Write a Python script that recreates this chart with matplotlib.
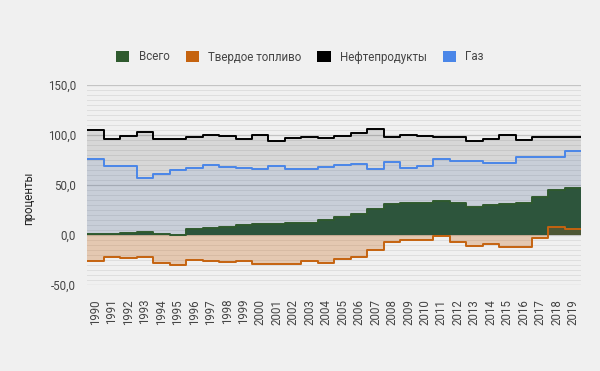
import numpy as np
import matplotlib
matplotlib.use('Agg')
import matplotlib.pyplot as plt
from matplotlib.patches import Patch
from matplotlib.ticker import MultipleLocator, FuncFormatter

plt.rcParams['font.family'] = ['Roboto', 'DejaVu Sans']

years = list(range(1990, 2020))
vsego = [0.7, 1, 1.7, 3, 0.7, 0.3, 5.7, 6.7, 8.3, 10, 11, 11, 11.7, 12.3, 15,
         18.3, 20.7, 25.7, 31, 32.3, 32.3, 34, 31.7, 28.3, 30, 30.7, 31.7, 38.3, 45, 47.3]
tverdoe = [-25.7, -21.7, -23.3, -22.3, -27.7, -30.3, -25, -26, -27, -26, -29, -29.3,
           -28.7, -26.3, -27.7, -24, -21.7, -15, -6.7, -5.3, -4.7, -1, -6.7, -10.7,
           -8.7, -11.7, -12, -2.7, 8.3, 6]
neft = [105, 95.7, 99.3, 102.7, 96.3, 96.3, 97.7, 100, 98.7, 96, 100, 93.7, 96.7,
        98.3, 96.7, 99, 101.7, 106, 98, 100.3, 99, 97.7, 97.7, 94.3, 96, 100.3,
        95.3, 98.3, 98.3, 97.7]
gaz = [76.3, 69, 69, 57.3, 61, 65, 67.3, 70, 68.3, 67.3, 66.3, 69.3, 66.3, 66.3,
       68.3, 70, 71, 66, 73, 67.3, 69.3, 75.7, 74.3, 74.3, 72.3, 72.3, 77.7, 78.3,
       78.3, 83.7]

names = ['Всего', 'Твердое топливо', 'Нефтепродукты', 'Газ']
colors = ['#2f5a2e', '#c5630f', '#000000', '#4a86e8']

bg = '#f0f0f0'
fig = plt.figure(figsize=(6, 3.71), dpi=100, facecolor=bg)
ax = fig.add_axes([87.3 / 600, 1 - 285 / 371, (581.4 - 87.3) / 600, 200 / 371])
ax.set_facecolor(bg)

x = np.arange(len(years) + 1)

def ext(v):
    return list(v) + [v[-1]]

# filled steps, same order as the series
ax.fill_between(x, 0, ext(vsego), step='post', color=colors[0], lw=0, zorder=2)
ax.fill_between(x, 0, ext(tverdoe), step='post', color=colors[1], alpha=0.28, lw=0, zorder=3)
ax.fill_between(x, 0, ext(neft), step='post', color=colors[2], alpha=0.1, lw=0, zorder=3)
ax.fill_between(x, 0, ext(gaz), step='post', color=colors[3], alpha=0.1, lw=0, zorder=3)

ax.step(x, ext(vsego), where='post', color=colors[0], lw=1.4, zorder=4)
ax.step(x, ext(tverdoe), where='post', color=colors[1], lw=1.4, zorder=4)
ax.step(x, ext(neft), where='post', color=colors[2], lw=1.4, zorder=4)
ax.step(x, ext(gaz), where='post', color=colors[3], lw=1.4, zorder=4)

ax.set_xlim(0, len(years))
ax.set_ylim(-50, 150)

ax.yaxis.set_major_locator(MultipleLocator(50))
ax.yaxis.set_minor_locator(MultipleLocator(5))
ax.yaxis.set_major_formatter(FuncFormatter(lambda v, p: f'{v:.1f}'.replace('.', ',')))
ax.grid(True, axis='y', which='major', color='#c4c4c4', lw=0.9, zorder=1)
ax.grid(True, axis='y', which='minor', color='#dedede', lw=0.7, zorder=1)
ax.set_axisbelow(True)

ax.set_xticks(np.arange(len(years)) + 0.5)
ax.set_xticklabels([str(y) for y in years], rotation=90, fontsize=8.3, color='#444444')
ax.tick_params(axis='x', length=0, pad=10)
ax.tick_params(axis='y', which='both', length=0, pad=8, labelsize=8.3, labelcolor='#444444')
for s in ax.spines.values():
    s.set_visible(False)

ax.set_ylabel('проценты', fontsize=8.3, color='#222222', labelpad=8)
ax.yaxis.set_label_coords(-0.105, 0.435)

handles = [Patch(facecolor=c, edgecolor='none') for c in colors]
fig.legend(handles, names, loc='center', bbox_to_anchor=(0.5, 1 - 57 / 371), ncol=4,
           frameon=False, fontsize=8.3, labelcolor='#444444', handlelength=1.15,
           handleheight=1.15, handletextpad=0.8, columnspacing=1.4)

fig.savefig('out.png', dpi=100, facecolor=bg)
